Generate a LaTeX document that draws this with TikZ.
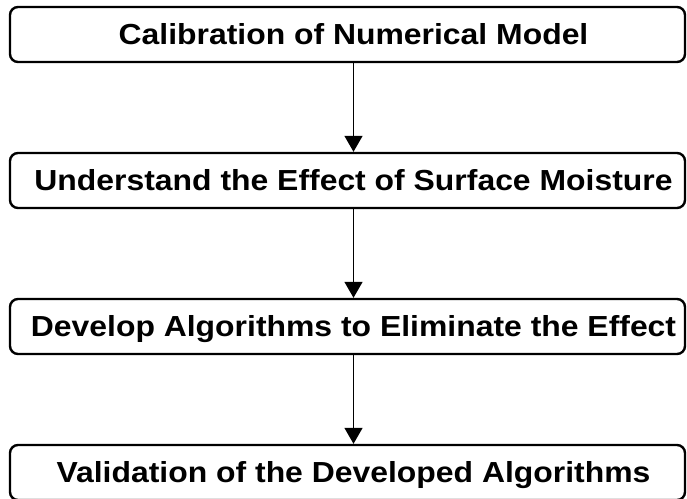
\documentclass[tikz,border=0pt]{standalone}
\usepackage{fontspec}
\setmainfont{Liberation Sans}[FakeStretch=1.1]
\usetikzlibrary{arrows.meta}
\begin{document}
\begin{tikzpicture}[x=1pt,y=-1pt,
  stepbox/.style={draw=black,line width=2.4pt,rounded corners=8pt,minimum width=675pt,minimum height=55pt,inner sep=0pt,fill=white},
  label/.style={font=\fontsize{29}{32}\selectfont\bfseries,anchor=base,inner sep=0pt},
  arr/.style={line width=1.5pt,-{Triangle[width=18pt,length=16pt]}}]
\useasboundingbox (0,0) rectangle (687,498);
\clip (0,0) rectangle (687,498);
\node[stepbox] (b1) at (347.5,34.5) {};
\node[stepbox] (b2) at (347.5,180.5) {};
\node[stepbox] (b3) at (347.5,326.5) {};
\node[stepbox] (b4) at (347.5,472.5) {};
\node[label] (t1) at (353.5,44.5) {Calibration of Numerical Model};
\node[label] (t2) at (353.5,190.5) {Understand the Effect of Surface Moisture};
\node[label] (t3) at (353.5,336.5) {Develop Algorithms to Eliminate the Effect};
\node[label] (t4) at (353.5,482.5) {Validation of the Developed Algorithms};
\draw[arr] (t1 |- b1.south) -- (t1 |- b2.north);
\draw[arr] (t1 |- b2.south) -- (t1 |- b3.north);
\draw[arr] (t1 |- b3.south) -- (t1 |- b4.north);
\end{tikzpicture}
\end{document}
